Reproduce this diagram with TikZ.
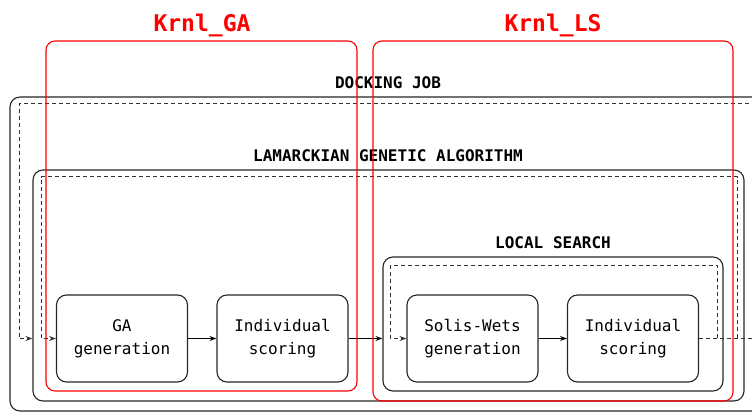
\documentclass[tikz,border=0pt]{standalone}
\usepackage{fontspec}
\setmonofont{DejaVu Sans Mono}
\usetikzlibrary{arrows.meta}
\tikzset{
  frame/.style={draw=black!85, line width=1.1pt, rounded corners=10pt, inner sep=0pt},
  kernel/.style={draw=red, line width=1.1pt, rounded corners=9pt, inner sep=0pt},
  stepbox/.style={frame, minimum width=131pt, minimum height=87pt, align=center,
    font=\ttfamily\fontsize{16}{23}\selectfont},
  title/.style={font=\ttfamily\bfseries\fontsize{16}{19}\selectfont, inner sep=0pt},
  ktitle/.style={font=\ttfamily\bfseries\fontsize{23}{27}\selectfont, text=red, inner sep=0pt},
  flow/.style={line width=1pt, -{Stealth[length=7pt,width=5pt]}},
  loopline/.style={line width=1pt, black!80, dash pattern=on 4pt off 3pt},
  looparrow/.style={loopline, -{Stealth[length=7pt,width=5pt]}},
}
\begin{document}
\begin{tikzpicture}[x=1pt,y=-1pt]
\useasboundingbox (0,0) rectangle (752,419);
\begin{scope}
\clip (0,0) rectangle (752,419);

% nested frames
\node[frame, minimum width=760pt, minimum height=314pt] (dj) at (390,254) {};
\node[frame, minimum width=711pt, minimum height=231pt] (lga) at (388.5,285.5) {};
\node[frame, minimum width=340pt, minimum height=134pt] (ls) at (553,324) {};

% frame titles
\node[title] (djt) at (388,83) {DOCKING JOB};
\node[title] (lgat) at (388,156) {LAMARCKIAN GENETIC ALGORITHM};
\node[title] (lst) at (553,243) {LOCAL SEARCH};

% processing steps
\node[stepbox] (ga)  at (122,338.5) {GA\\generation};
\node[stepbox] (is1) at (282.5,338.5) {Individual\\scoring};
\node[stepbox] (sw)  at (472.5,338.5) {Solis-Wets\\generation};
\node[stepbox] (is2) at (633,338.5) {Individual\\scoring};

% forward flow
\draw[flow] (ga) -- (is1);
\draw[flow] (is1.east) -- (ls.west |- is1.east);
\draw[flow] (sw) -- (is2);

% feedback loops
\coordinate (out) at (770,338.5);
\coordinate (lsR) at (717,338.5);
\coordinate (lsT) at (390,266);
\coordinate (lgaR) at (737,338.5);
\coordinate (lgaT) at (41,177);
\coordinate (djR) at (770,104);
\coordinate (djT) at (19,104);
\coordinate (lgaIn) at (lga.west |- ga.west);

\draw[loopline] (is2.east) -- (out);
\draw[looparrow] (lsR) |- (lsT) |- (sw.west);
\draw[looparrow] (lgaR) |- (lgaT) |- (ga.west);
\draw[looparrow] (djR) -- (djT) |- (lgaIn);

% kernel partitions
\node[kernel, minimum width=311pt, minimum height=350pt] (kga) at (201.5,216) {};
\node[kernel, minimum width=360pt, minimum height=360pt] (kls) at (553,221) {};
\node[ktitle] (kgat) at (202,25) {Krnl\_GA};
\node[ktitle] (klst) at (553,25) {Krnl\_LS};
\end{scope}
\end{tikzpicture}
\end{document}
